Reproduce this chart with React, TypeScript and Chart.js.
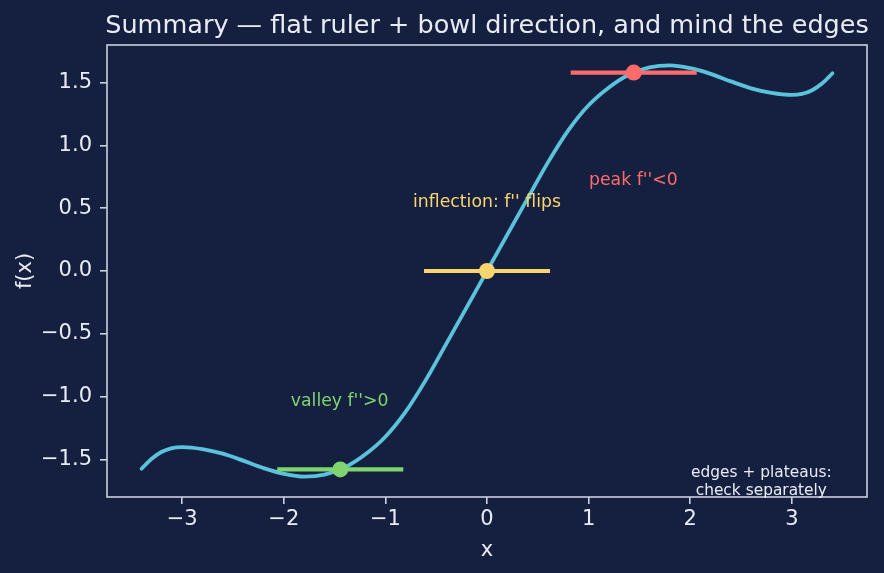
import React, { useEffect, useRef } from "react";
import { Chart, registerables } from "chart.js";

Chart.register(...registerables);

// ---- data ----
const curveX = [-3.4, -3.3, -3.2, -3.1, -3.0, -2.8, -2.6, -2.4, -2.2, -2.0, -1.8, -1.6, -1.4, -1.2, -1.0, -0.8, -0.6, -0.4, -0.2, 0, 0.2, 0.4, 0.6, 0.8, 1.0, 1.2, 1.4, 1.6, 1.8, 2.0, 2.2, 2.4, 2.6, 2.8, 3.0, 3.1, 3.2, 3.3, 3.4];
const curveY = [-1.575, -1.495, -1.44, -1.41, -1.402, -1.418, -1.455, -1.51, -1.57, -1.615, -1.638, -1.622, -1.565, -1.462, -1.32, -1.12, -0.865, -0.578, -0.29, 0, 0.29, 0.578, 0.865, 1.12, 1.32, 1.462, 1.565, 1.622, 1.638, 1.615, 1.57, 1.51, 1.455, 1.418, 1.402, 1.41, 1.44, 1.495, 1.575];

const markerX = [-1.444, 0, 1.444];
const markerY = [-1.58, 0, 1.58];
const tangentHalf = [0.62, 0.62, 0.62];
const markerColors = ["#7fd46f", "#f9d56e", "#ff6b6b"];

const noteTexts = ["valley f''>0", "inflection: f'' flips", "peak f''<0"];
const noteX = [-1.45, 0, 1.44];
const noteY = [-1.04, 0.545, 0.72];

const edgeNoteLines = ["edges + plateaus:", "check separately"];
const edgeNoteX = 2.7;
const edgeNoteY = -1.68;

const xTicks = [-3, -2, -1, 0, 1, 2, 3];
const yTicks = [-1.5, -1.0, -0.5, 0.0, 0.5, 1.0, 1.5];
const xRange = [-3.74, 3.74];
const yRange = [-1.8, 1.8];

const titleText = "Summary \u2014 flat ruler + bowl direction, and mind the edges";
const xLabel = "x";
const yLabel = "f(x)";

const BG = "#152040";
const FG = "#e9ecf3";
const FRAME = "#c9d0de";
const CURVE = "#5bc2dc";
const FONT = "'DejaVu Sans', sans-serif";

const fmt = (v: number, d: number) => v.toFixed(d).replace("-", "\u2212");

export default function App() {
  const ref = useRef<HTMLCanvasElement | null>(null);

  useEffect(() => {
    document.body.style.margin = "0";
    document.body.style.background = BG;
    const canvas = ref.current!;

    const bgPlugin = {
      id: "bg",
      beforeDraw(chart: any) {
        const c = chart.ctx;
        c.save();
        c.fillStyle = BG;
        c.fillRect(0, 0, chart.width, chart.height);
        c.restore();
      },
      afterDraw(chart: any) {
        const c = chart.ctx;
        const a = chart.chartArea;
        const xs = chart.scales.x;
        const ys = chart.scales.y;
        c.save();
        // frame
        c.strokeStyle = FRAME;
        c.lineWidth = 1.6;
        c.strokeRect(a.left, a.top, a.right - a.left, a.bottom - a.top);
        // title
        c.fillStyle = FG;
        c.textAlign = "center";
        c.textBaseline = "alphabetic";
        c.font = `25.5px ${FONT}`;
        c.fillText(titleText, (a.left + a.right) / 2, 33);
        // axis labels
        c.font = `21px ${FONT}`;
        c.fillText(xLabel, (a.left + a.right) / 2, 556);
        c.save();
        c.translate(31, (a.top + a.bottom) / 2);
        c.rotate(-Math.PI / 2);
        c.fillText(yLabel, 0, 0);
        c.restore();
        // annotations
        c.textBaseline = "middle";
        c.font = `17.3px ${FONT}`;
        noteTexts.forEach((t, i) => {
          c.fillStyle = markerColors[i];
          c.fillText(t, xs.getPixelForValue(noteX[i]), ys.getPixelForValue(noteY[i]));
        });
        c.fillStyle = FG;
        c.font = `15.4px ${FONT}`;
        const cx = xs.getPixelForValue(edgeNoteX);
        const cy = ys.getPixelForValue(edgeNoteY);
        edgeNoteLines.forEach((t, i) => {
          c.fillText(t, cx, cy + (i - (edgeNoteLines.length - 1) / 2) * 18);
        });
        c.restore();
      },
    };

    const datasets: any[] = [
      {
        data: curveX.map((x, i) => ({ x, y: curveY[i] })),
        showLine: true,
        borderColor: CURVE,
        borderWidth: 3.8,
        pointRadius: 0,
        cubicInterpolationMode: "monotone",
        borderCapStyle: "round",
        order: 3,
      },
    ];
    markerX.forEach((mx, i) => {
      datasets.push({
        data: [
          { x: mx - tangentHalf[i], y: markerY[i] },
          { x: mx + tangentHalf[i], y: markerY[i] },
        ],
        showLine: true,
        borderColor: markerColors[i],
        borderWidth: 4.2,
        pointRadius: 0,
        order: 2,
      });
    });
    markerX.forEach((mx, i) => {
      datasets.push({
        data: [{ x: mx, y: markerY[i] }],
        showLine: false,
        pointRadius: 8,
        pointBackgroundColor: markerColors[i],
        pointBorderWidth: 0,
        order: 1,
      });
    });

    const chart = new Chart(canvas, {
      type: "scatter",
      data: { datasets },
      plugins: [bgPlugin],
      options: {
        animation: false,
        responsive: false,
        devicePixelRatio: 1,
        layout: { padding: { top: 45, right: 17, bottom: 0, left: 0 } },
        plugins: { legend: { display: false }, title: { display: false }, tooltip: { enabled: false } },
        scales: {
          x: {
            type: "linear",
            min: xRange[0],
            max: xRange[1],
            afterBuildTicks: (s: any) => {
              s.ticks = xTicks.map((v) => ({ value: v }));
            },
            afterFit: (s: any) => {
              s.height = 76;
            },
            grid: { display: true, drawOnChartArea: false, drawTicks: true, tickLength: 7, color: FRAME, lineWidth: 1.6 },
            border: { display: false },
            ticks: {
              color: FG,
              font: { family: FONT, size: 21 },
              padding: 3,
              maxRotation: 0,
              autoSkip: false,
              callback: (v: any) => fmt(Number(v), 0),
            },
          },
          y: {
            type: "linear",
            min: yRange[0],
            max: yRange[1],
            afterBuildTicks: (s: any) => {
              s.ticks = yTicks.map((v) => ({ value: v }));
            },
            afterFit: (s: any) => {
              s.width = 107;
            },
            grid: { display: true, drawOnChartArea: false, drawTicks: true, tickLength: 7, color: FRAME, lineWidth: 1.6 },
            border: { display: false },
            ticks: {
              color: FG,
              font: { family: FONT, size: 21 },
              padding: 8,
              autoSkip: false,
              callback: (v: any) => fmt(Number(v), 1),
            },
          },
        },
      } as any,
    });
    return () => chart.destroy();
  }, []);

  return (
    <div style={{ width: 884, height: 573, background: BG }}>
      <canvas ref={ref} width={884} height={573} style={{ width: 884, height: 573, display: "block" }} />
    </div>
  );
}
